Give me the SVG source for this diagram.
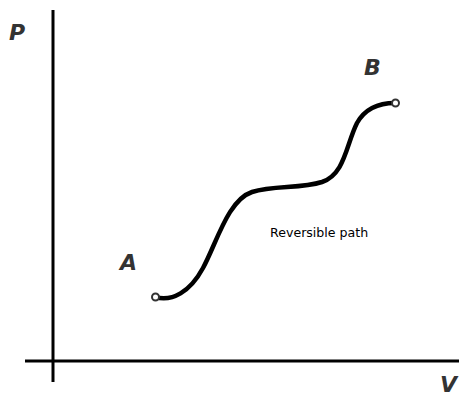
<svg xmlns="http://www.w3.org/2000/svg" width="462" height="398" viewBox="0 0 462 398">
<style>
.ax{stroke:#000;stroke-width:3;fill:none}
.lbl{font-family:"DejaVu Sans","Liberation Sans",sans-serif;font-weight:bold;font-style:italic;font-size:22px;fill:#333}
.end{fill:#fff;stroke:#333;stroke-width:2}
</style>
<rect width="462" height="398" fill="#fff"/>
<g id="axes">
<line class="ax" x1="53" y1="10" x2="53" y2="382"/>
<line class="ax" x1="25" y1="361" x2="459" y2="361"/>
</g>
<g id="connectors">
<path d="M155,297 C172,302 190,292 203,268 C217,242 228,200 252,192 C274,185 300,189 322,182 C345,174 346,145 357,123 C366,107 380,103 395,103" fill="none" stroke="#000" stroke-width="4.5" stroke-linecap="round"/>
</g>
<g id="A"><circle class="end" cx="155.5" cy="297" r="3.5"/><text class="lbl" x="120" y="270">A</text></g>
<g id="B"><circle class="end" cx="395.5" cy="103" r="3.5"/><text class="lbl" x="364" y="75">B</text></g>
<text class="lbl" x="9" y="40">P</text>
<text class="lbl" x="440" y="392" font-size="21">V</text>
<text x="270" y="237" font-family="DejaVu Sans,sans-serif" font-size="12.6" fill="#000">Reversible path</text>
</svg>
